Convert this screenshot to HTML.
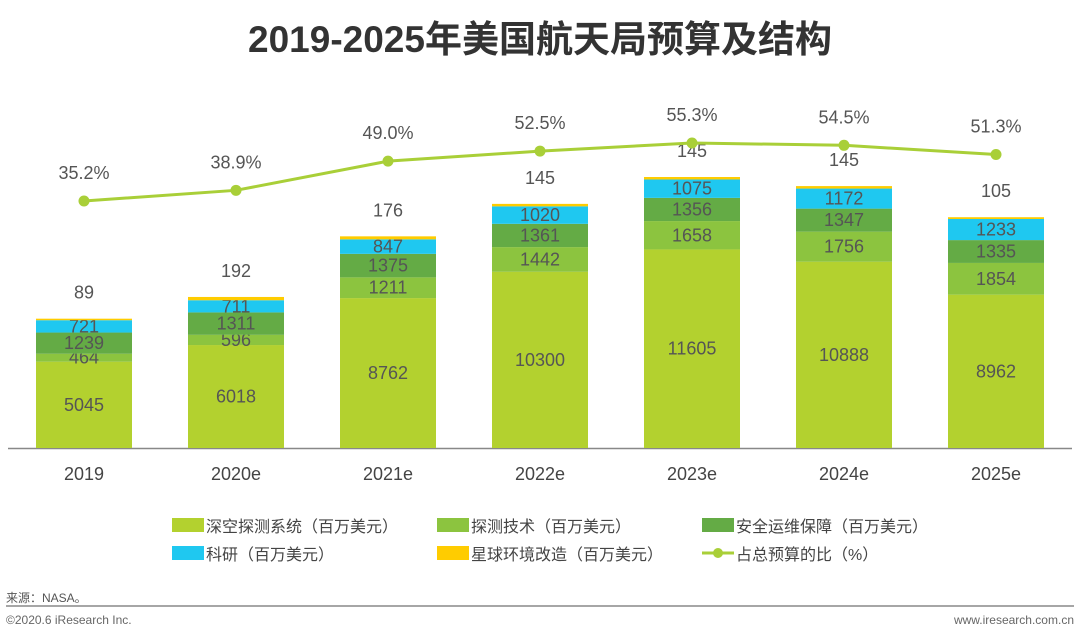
<!DOCTYPE html>
<html><head><meta charset="utf-8"><style>
body{margin:0;background:#fff;font-family:"Liberation Sans","Noto Sans CJK SC",sans-serif;}
#wrap{position:relative;width:1080px;height:641px;overflow:hidden}
</style></head><body><div id="wrap">
<svg id="svg" width="1080" height="641" xmlns="http://www.w3.org/2000/svg" font-family="Liberation Sans, Noto Sans CJK SC, sans-serif">
<text x="540" y="52" text-anchor="middle" font-size="37" font-weight="bold" fill="#333">2019-2025年美国航天局预算及结构</text>
<line x1="8" y1="448.5" x2="1072" y2="448.5" stroke="#888" stroke-width="1.5"/>
<g id="bars"></g><g id="line"></g>
<g font-size="16" fill="#444">
<rect x="172" y="518" width="32" height="14" fill="#b3d12f"/><text x="206" y="532">深空探测系统（百万美元）</text>
<rect x="437" y="518" width="32" height="14" fill="#8cc43f"/><text x="471" y="532">探测技术（百万美元）</text>
<rect x="702" y="518" width="32" height="14" fill="#64ab45"/><text x="736" y="532">安全运维保障（百万美元）</text>
<rect x="172" y="546" width="32" height="14" fill="#1fc8f0"/><text x="206" y="560">科研（百万美元）</text>
<rect x="437" y="546" width="32" height="14" fill="#ffcc00"/><text x="471" y="560">星球环境改造（百万美元）</text>
<line x1="702" y1="553" x2="734" y2="553" stroke="#a9cf38" stroke-width="3"/><circle cx="718" cy="553" r="5" fill="#a9cf38"/><text x="736" y="560">占总预算的比（%）</text>
</g>
<text x="6" y="602" font-size="12" fill="#555">来源：NASA。</text>
<line x1="6" y1="606" x2="1074" y2="606" stroke="#888" stroke-width="1.5"/>
<text x="6" y="624" font-size="12" fill="#666">©2020.6 iResearch Inc.</text>
<text x="1074" y="624" font-size="12" fill="#666" text-anchor="end">www.iresearch.com.cn</text>
</svg></div>
<script>
const categories=["2019","2020e","2021e","2022e","2023e","2024e","2025e"];
const deepSpace=[5045,6018,8762,10300,11605,10888,8962];
const tech=[464,596,1211,1442,1658,1756,1854];
const safety=[1239,1311,1375,1361,1356,1347,1335];
const research=[721,711,847,1020,1075,1172,1233];
const planet=[89,192,176,145,145,145,105];
const ratio=[35.2,38.9,49.0,52.5,55.3,54.5,51.3];
const NS="http://www.w3.org/2000/svg";
const base=448, k=271/15839;
const xc=i=>84+i*152;
const yv=v=>base-v*k;
const yp=p=>201-(p-35.2)*2.886;
const series=[[deepSpace,"#b3d12f","deep-space"],[tech,"#8cc43f","tech"],[safety,"#64ab45","safety"],[research,"#1fc8f0","research"],[planet,"#ffcc00","planet"]];
const bars=document.getElementById("bars"), line=document.getElementById("line");
function mk(tag,attrs,parent){const e=document.createElementNS(NS,tag);for(const a in attrs)e.setAttribute(a,attrs[a]);parent.appendChild(e);return e;}
categories.forEach((c,i)=>{
  let cum=0;
  series.forEach(([arr,col,nm],s)=>{
    const v=arr[i], y0=yv(cum), y1=yv(cum+v);
    const r=mk("rect",{x:xc(i)-48,y:y1,width:96,height:y0-y1,fill:col},bars);
    
    
    const t=mk("text",{x:xc(i),"text-anchor":"middle","font-size":18,fill:"#555"},bars);
    t.setAttribute('y', s===4 ? y1-20 : (y0+y1)/2+6);
    t.textContent=v;
    
    
    cum+=v;
  });
  const xl=mk("text",{x:xc(i),y:480,"text-anchor":"middle","font-size":18,fill:"#444"},bars);
  xl.textContent=c;
  
  
});
const pts=ratio.map((p,i)=>xc(i)+","+yp(p)).join(" ");
const pl=mk("polyline",{points:pts,fill:"none",stroke:"#a9cf38","stroke-width":3},line);


ratio.forEach((p,i)=>{
  const d=mk("circle",{cx:xc(i),cy:yp(p),r:5.5,fill:"#a9cf38"},line);
  
  
  const t=mk("text",{x:xc(i),y:yp(p)-22,"text-anchor":"middle","font-size":18,fill:"#555"},line);
  t.textContent=p.toFixed(1)+"%";
  
  
});
</script></body></html>
